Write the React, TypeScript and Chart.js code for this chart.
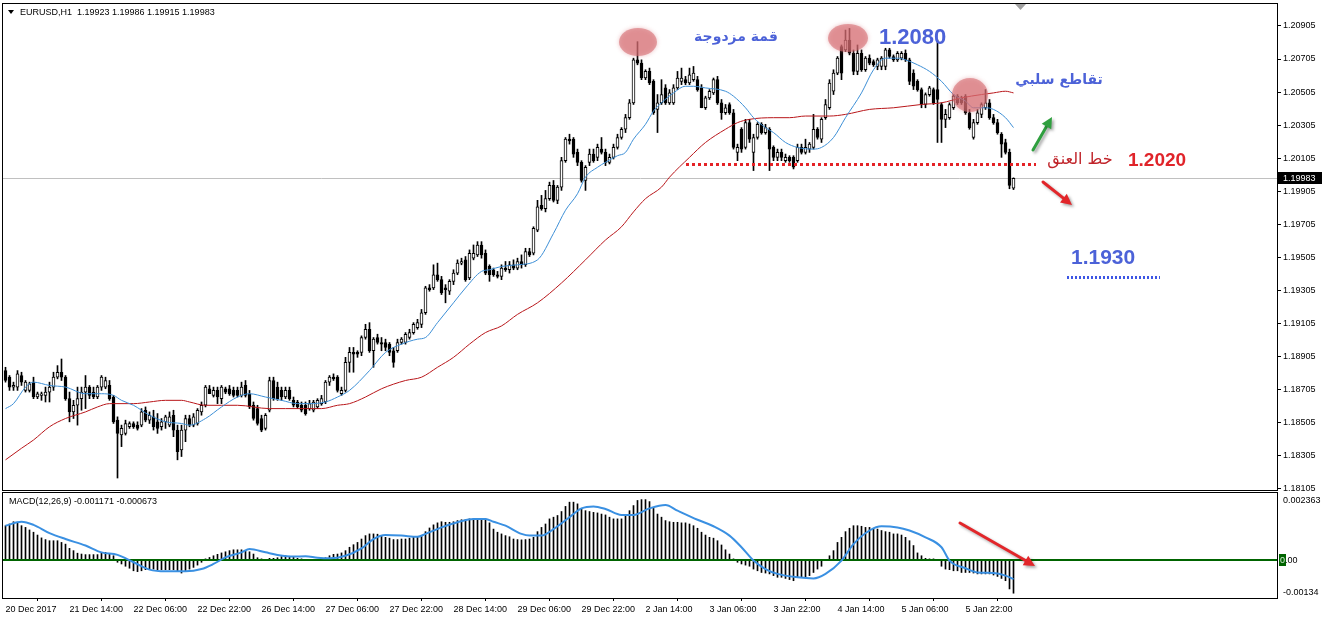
import React, { useEffect, useRef } from "react";
import { Chart, registerables } from "chart.js";
Chart.register(...registerables);

// ---------- DATA (EURUSD H1, bar index 0 = 20 Dec 2017 22:00) ----------
const opens = [
  1.1882,1.1878,1.1872,1.1872,1.1879,1.1870,1.1870,1.1875,1.1866,1.1867,
  1.1867,1.1869,1.1872,1.1878,1.1881,1.1878,1.1865,1.1857,1.1861,1.1865,
  1.1869,1.1872,1.1869,1.1866,1.1872,1.1872,1.1873,1.1866,1.1852,1.1843,
  1.1844,1.1848,1.1850,1.1849,1.1849,1.1858,1.1852,1.1854,1.1851,1.1848,
  1.1851,1.1849,1.1855,1.1846,1.1834,1.1846,1.1853,1.1849,1.1850,1.1857,
  1.1861,1.1871,1.1867,1.1870,1.1865,1.1871,1.1871,1.1870,1.1870,1.1867,
  1.1873,1.1868,1.1861,1.1859,1.1853,1.1847,1.1858,1.1876,1.1872,1.1870,
  1.1866,1.1870,1.1864,1.1863,1.1861,1.1861,1.1859,1.1858,1.1860,1.1862,
  1.1863,1.1875,1.1878,1.1878,1.1868,1.1870,1.1887,1.1893,1.1893,1.1893,
  1.1902,1.1907,1.1894,1.1902,1.1899,1.1899,1.1898,1.1894,1.1894,1.1899,
  1.1899,1.1902,1.1905,1.1908,1.1910,1.1917,1.1932,1.1932,1.1940,1.1937,
  1.1932,1.1930,1.1936,1.1941,1.1947,1.1949,1.1938,1.1950,1.1952,1.1958,
  1.1953,1.1945,1.1943,1.1940,1.1939,1.1944,1.1943,1.1946,1.1944,1.1948,
  1.1946,1.1954,1.1953,1.1967,1.1982,1.1980,1.1986,1.1994,1.1985,1.1993,
  1.2009,1.2022,1.2022,1.2014,1.2008,1.1997,1.2008,1.2013,1.2011,1.2016,
  1.2014,1.2008,1.2011,1.2017,1.2023,1.2028,1.2035,1.2044,1.2070,1.2068,
  1.2059,1.2063,1.2057,1.2040,1.2044,1.2053,1.2044,1.2044,1.2053,1.2057,
  1.2058,1.2056,1.2058,1.2058,1.2053,1.2041,1.2047,1.2050,1.2058,1.2044,
  1.2038,1.2043,1.2038,1.2014,1.2028,1.2017,1.2032,1.2014,1.2023,1.2031,
  1.2026,1.2028,1.2017,1.2011,1.2014,1.2009,1.2011,1.2011,1.2009,1.2017,
  1.2014,1.2016,1.2017,1.2028,1.2022,1.2035,1.2041,1.2051,1.2062,1.2078,
  1.2076,1.2082,1.2074,1.2063,1.2074,1.2064,1.2071,1.2069,1.2066,1.2066,
  1.2066,1.2076,1.2072,1.2070,1.2071,1.2074,1.2070,1.2062,1.2057,1.2052,
  1.2043,1.2049,1.2052,1.2052,1.2043,1.2034,1.2035,1.2041,1.2048,1.2047,
  1.2048,1.2038,1.2023,1.2032,1.2037,1.2041,1.2044,1.2035,1.2032,1.2025,
  1.2020,1.2014,1.19923,
];
const highs = [
  1.1884,1.1879,1.1875,1.1882,1.1881,1.1876,1.1875,1.1878,1.1869,1.1869,
  1.1872,1.1875,1.1881,1.1885,1.1889,1.1879,1.1869,1.1864,1.1872,1.1872,
  1.1879,1.1873,1.1872,1.1873,1.1879,1.1878,1.1876,1.1867,1.1854,1.1849,
  1.1852,1.1851,1.1851,1.1851,1.1859,1.1860,1.1857,1.1858,1.1856,1.1853,
  1.1855,1.1857,1.1858,1.1849,1.1849,1.1855,1.1855,1.1856,1.1859,1.1863,
  1.1873,1.1873,1.1872,1.1872,1.1873,1.1872,1.1873,1.1872,1.1872,1.1875,
  1.1876,1.1870,1.1863,1.1861,1.1855,1.1856,1.1878,1.1878,1.1875,1.1872,
  1.1872,1.1872,1.1866,1.1864,1.1863,1.1863,1.1864,1.1864,1.1865,1.1867,
  1.1876,1.1879,1.1880,1.1879,1.1872,1.1890,1.1896,1.1896,1.1894,1.1903,
  1.1910,1.1911,1.1902,1.1904,1.1902,1.1901,1.1899,1.1896,1.1901,1.1902,
  1.1905,1.1907,1.1911,1.1913,1.1919,1.1933,1.1934,1.1946,1.1947,1.1939,
  1.1934,1.1937,1.1943,1.1949,1.1950,1.1951,1.1955,1.1958,1.1960,1.1960,
  1.1955,1.1946,1.1944,1.1942,1.1946,1.1948,1.1948,1.1949,1.1950,1.1952,
  1.1956,1.1956,1.1969,1.1985,1.1988,1.1991,1.1996,1.1997,1.1994,1.2011,
  1.2023,1.2025,1.2023,1.2016,1.2009,1.2006,1.2016,1.2016,1.2019,1.2023,
  1.2016,1.2013,1.2019,1.2025,1.2029,1.2037,1.2046,1.2071,1.2081,1.2070,
  1.2064,1.2065,1.2058,1.2049,1.2058,1.2055,1.2052,1.2055,1.2063,1.2065,
  1.2060,1.2065,1.2066,1.2060,1.2055,1.2048,1.2052,1.2059,1.2060,1.2046,
  1.2043,1.2044,1.2040,1.2019,1.2029,1.2034,1.2034,1.2025,1.2032,1.2032,
  1.2031,1.2029,1.2018,1.2016,1.2016,1.2013,1.2012,1.2012,1.2019,1.2019,
  1.2022,1.2020,1.2037,1.2029,1.2035,1.2046,1.2058,1.2064,1.2072,1.2079,
  1.2088,1.2089,1.2076,1.2079,1.2076,1.2072,1.2073,1.2070,1.2071,1.2072,
  1.2077,1.2077,1.2073,1.2075,1.2075,1.2076,1.2071,1.2064,1.2058,1.2053,
  1.2050,1.2054,1.2053,1.2082,1.2044,1.2040,1.2044,1.2049,1.2049,1.2048,
  1.2049,1.2040,1.2034,1.2040,1.2044,1.2052,1.2046,1.2037,1.2034,1.2026,
  1.2022,1.2016,1.19986,
];
const lows = [
  1.1875,1.1870,1.1870,1.1870,1.1873,1.1869,1.1869,1.1865,1.1865,1.1864,
  1.1863,1.1863,1.1870,1.1877,1.1876,1.1864,1.1851,1.1853,1.1849,1.1858,
  1.1859,1.1865,1.1865,1.1865,1.1870,1.1871,1.1864,1.1850,1.1817,1.1836,
  1.1843,1.1847,1.1847,1.1846,1.1848,1.1851,1.1850,1.1846,1.1844,1.1846,
  1.1847,1.1848,1.1842,1.1828,1.1830,1.1839,1.1848,1.1848,1.1849,1.1855,
  1.1860,1.1868,1.1866,1.1862,1.1862,1.1868,1.1867,1.1866,1.1866,1.1866,
  1.1866,1.1859,1.1852,1.1849,1.1845,1.1846,1.1857,1.1864,1.1864,1.1864,
  1.1865,1.1864,1.1860,1.1859,1.1857,1.1855,1.1858,1.1857,1.1859,1.1861,
  1.1862,1.1873,1.1876,1.1869,1.1867,1.1869,1.1881,1.1881,1.1890,1.1891,
  1.1901,1.1893,1.1884,1.1898,1.1894,1.1894,1.1891,1.1884,1.1893,1.1898,
  1.1898,1.1901,1.1904,1.1907,1.1908,1.1916,1.1930,1.1931,1.1936,1.1928,
  1.1923,1.1928,1.1934,1.1940,1.1946,1.1936,1.1937,1.1949,1.1951,1.1950,
  1.1940,1.1936,1.1939,1.1938,1.1937,1.1942,1.1941,1.1943,1.1943,1.1944,
  1.1945,1.1951,1.1952,1.1966,1.1979,1.1978,1.1985,1.1984,1.1983,1.1991,
  1.2008,1.2019,1.2011,1.2006,1.1996,1.1991,1.2006,1.2008,1.2009,1.2013,
  1.2006,1.2007,1.2010,1.2016,1.2022,1.2026,1.2034,1.2043,1.2067,1.2058,
  1.2058,1.2055,1.2037,1.2026,1.2043,1.2043,1.2043,1.2043,1.2052,1.2055,
  1.2055,1.2055,1.2057,1.2051,1.2041,1.2040,1.2046,1.2049,1.2043,1.2034,
  1.2037,1.2037,1.2016,1.2009,1.2014,1.2016,1.2020,1.2003,1.2022,1.2025,
  1.2025,1.2003,1.2009,1.2009,1.2009,1.2008,1.2008,1.2004,1.2008,1.2013,
  1.2013,1.2014,1.2016,1.2022,1.2020,1.2034,1.2040,1.2049,1.2061,1.2058,
  1.2075,1.2073,1.2061,1.2061,1.2063,1.2063,1.2067,1.2066,1.2064,1.2064,
  1.2064,1.2071,1.2069,1.2069,1.2070,1.2069,1.2055,1.2052,1.2051,1.2041,
  1.2041,1.2048,1.2043,1.2020,1.2020,1.2029,1.2034,1.2040,1.2043,1.2043,
  1.2037,1.2028,1.2022,1.2031,1.2035,1.2040,1.2034,1.2031,1.2025,1.2011,
  1.2013,1.1992,1.19915,
];
const closes = [
  1.1876,1.1872,1.1873,1.1880,1.1875,1.1875,1.1874,1.1866,1.1868,1.1868,
  1.1869,1.1872,1.1878,1.1881,1.1878,1.1865,1.1857,1.1861,1.1865,1.1869,
  1.1872,1.1867,1.1866,1.1872,1.1878,1.1876,1.1865,1.1851,1.1844,1.1847,
  1.1850,1.1850,1.1848,1.1847,1.1857,1.1852,1.1855,1.1848,1.1847,1.1851,
  1.1854,1.1854,1.1846,1.1833,1.1846,1.1853,1.1849,1.1854,1.1858,1.1861,
  1.1872,1.1868,1.1870,1.1866,1.1872,1.1869,1.1868,1.1867,1.1867,1.1872,
  1.1867,1.1860,1.1853,1.1850,1.1846,1.1855,1.1876,1.1865,1.1865,1.1866,
  1.1870,1.1865,1.1861,1.1860,1.1858,1.1856,1.1862,1.1863,1.1864,1.1865,
  1.1875,1.1878,1.1877,1.1870,1.1870,1.1887,1.1893,1.1892,1.1892,1.1902,
  1.1907,1.1894,1.1901,1.1899,1.1898,1.1896,1.1893,1.1887,1.1899,1.1901,
  1.1904,1.1905,1.1910,1.1911,1.1917,1.1932,1.1931,1.1940,1.1937,1.1929,
  1.1931,1.1936,1.1941,1.1947,1.1948,1.1937,1.1953,1.1953,1.1958,1.1952,
  1.1941,1.1940,1.1940,1.1939,1.1944,1.1943,1.1946,1.1944,1.1948,1.1946,
  1.1954,1.1952,1.1968,1.1981,1.1980,1.1986,1.1994,1.1985,1.1993,1.2009,
  1.2022,1.2021,1.2013,1.2008,1.1997,1.2005,1.2013,1.2009,1.2017,1.2014,
  1.2008,1.2011,1.2017,1.2023,1.2028,1.2035,1.2044,1.2070,1.2068,1.2059,
  1.2063,1.2056,1.2038,1.2044,1.2049,1.2044,1.2050,1.2053,1.2059,1.2059,
  1.2056,1.2061,1.2062,1.2052,1.2041,1.2047,1.2051,1.2058,1.2044,1.2038,
  1.2041,1.2038,1.2017,1.2017,1.2016,1.2032,1.2022,1.2023,1.2031,1.2026,
  1.2029,1.2016,1.2011,1.2014,1.2011,1.2011,1.2009,1.2005,1.2017,1.2014,
  1.2017,1.2019,1.2028,1.2023,1.2034,1.2043,1.2056,1.2062,1.2071,1.2062,
  1.2082,1.2074,1.2063,1.2074,1.2064,1.2071,1.2068,1.2067,1.2070,1.2071,
  1.2076,1.2072,1.2070,1.2074,1.2074,1.2070,1.2057,1.2054,1.2052,1.2043,
  1.2049,1.2053,1.2044,1.2046,1.2034,1.2037,1.2043,1.2048,1.2044,1.2044,
  1.2038,1.2029,1.2032,1.2038,1.2043,1.2044,1.2035,1.2032,1.2026,1.2019,
  1.2014,1.1994,1.19983,
];

// fast moving average (blue), read at sampled bars
const fastMaBars = [0,2,5,7,11,15,20,24,27,29,32,36,40,44,46,50,54,58,61,65,69,73,76,80,83,86,91,95,99,103,105,108,112,115,119,121,124,128,133,137,140,143,145,148,150,153,155,157,160,162,164,167,170,172,175,180,182,185,187,190,192,195,198,202,204,207,210,214,217,220,223,225,228,231,234,237,240,242,245,247,250,252];
const fastMaValues = [1.1859,1.1862,1.1872,1.1875,1.1873,1.1872,1.1868,1.1868,1.1867,1.1864,1.1861,1.1855,1.1851,1.1850,1.1849,1.1853,1.1860,1.1866,1.1868,1.1866,1.1864,1.1862,1.1862,1.1863,1.1866,1.1870,1.1882,1.1893,1.1898,1.1901,1.1902,1.1911,1.1923,1.1932,1.1942,1.1943,1.1945,1.1946,1.1949,1.1965,1.1979,1.1989,1.1999,1.2005,1.2008,1.2012,1.2014,1.2022,1.2031,1.2039,1.2044,1.2050,1.2054,1.2054,1.2053,1.2051,1.2048,1.2041,1.2035,1.2029,1.2026,1.2020,1.2017,1.2016,1.2017,1.2023,1.2035,1.2050,1.2064,1.2071,1.2071,1.2070,1.2067,1.2063,1.2057,1.2049,1.2045,1.2041,1.2041,1.2040,1.2035,1.2029];

// slow moving average (red)
const slowMaBars = [0,4,7,11,15,20,23,26,32,36,40,44,46,50,54,58,66,70,75,79,83,86,90,94,100,104,108,112,116,120,124,128,133,139,145,150,154,157,160,164,166,171,175,180,183,186,192,196,200,206,210,216,222,229,234,239,244,247,250,252];
const slowMaValues = [1.1828,1.1835,1.1840,1.1848,1.1853,1.1857,1.1860,1.1862,1.1862,1.1863,1.1864,1.1864,1.1863,1.1861,1.1861,1.1861,1.1859,1.1859,1.1859,1.1859,1.1861,1.1862,1.1866,1.1871,1.1876,1.1878,1.1884,1.1890,1.1898,1.1905,1.1909,1.1916,1.1923,1.1935,1.1949,1.1961,1.1969,1.1978,1.1986,1.1993,1.1999,1.2011,1.2020,1.2028,1.2032,1.2034,1.2035,1.2035,1.2036,1.2036,1.2037,1.2040,1.2041,1.2043,1.2044,1.2047,1.2049,1.2050,1.2051,1.2050];

// MACD(12,26,9) main values (histogram), one per bar
const macdHist = [
  0.00121,0.00127,0.00135,0.00131,0.00121,0.00115,0.00106,0.00098,0.00088,0.00078,
  0.00072,0.00068,0.00068,0.00068,0.00062,0.00056,0.00041,0.00033,0.00024,0.00021,
  0.00019,0.00019,0.00019,0.00019,0.00027,0.00027,0.00021,0.00015,-0.00008,-0.00014,
  -0.00022,-0.00029,-0.00038,-0.00041,-0.00038,-0.00034,-0.00034,-0.00032,-0.00034,-0.00034,
  -0.00034,-0.00034,-0.00034,-0.00039,-0.00046,-0.00038,-0.00032,-0.00026,-0.00018,-0.00008,
  0.00004,0.00009,0.00015,0.00020,0.00025,0.00029,0.00033,0.00036,0.00036,0.00036,
  0.00034,0.00029,0.00021,0.00008,0.00004,0.00002,0.00006,0.00006,0.00008,0.00012,
  0.00015,0.00013,0.00011,0.00006,0.00004,0.00002,0.00001,0.00000,0.00001,0.00004,
  0.00008,0.00015,0.00020,0.00021,0.00025,0.00033,0.00045,0.00054,0.00062,0.00074,
  0.00086,0.00092,0.00092,0.00091,0.00086,0.00080,0.00077,0.00072,0.00072,0.00074,
  0.00074,0.00077,0.00080,0.00082,0.00086,0.00100,0.00113,0.00124,0.00131,0.00135,
  0.00133,0.00133,0.00135,0.00139,0.00142,0.00142,0.00145,0.00145,0.00147,0.00147,
  0.00145,0.00131,0.00109,0.00098,0.00092,0.00086,0.00082,0.00074,0.00072,0.00071,
  0.00072,0.00074,0.00080,0.00100,0.00115,0.00127,0.00145,0.00151,0.00157,0.00171,
  0.00189,0.00204,0.00204,0.00198,0.00180,0.00174,0.00171,0.00168,0.00166,0.00162,
  0.00159,0.00151,0.00145,0.00145,0.00145,0.00154,0.00174,0.00192,0.00210,0.00213,
  0.00213,0.00206,0.00182,0.00162,0.00151,0.00139,0.00135,0.00133,0.00133,0.00131,
  0.00131,0.00127,0.00121,0.00112,0.00098,0.00088,0.00080,0.00077,0.00068,0.00053,
  0.00036,0.00021,0.00004,-0.00008,-0.00014,-0.00018,-0.00022,-0.00032,-0.00038,-0.00044,
  -0.00046,-0.00049,-0.00055,-0.00061,-0.00061,-0.00065,-0.00069,-0.00073,-0.00061,-0.00061,
  -0.00061,-0.00055,-0.00044,-0.00032,-0.00022,-0.00002,0.00015,0.00033,0.00062,0.00080,
  0.00100,0.00112,0.00121,0.00121,0.00119,0.00115,0.00115,0.00112,0.00109,0.00104,
  0.00100,0.00098,0.00092,0.00092,0.00088,0.00080,0.00068,0.00051,0.00025,0.00015,
  0.00006,0.00004,0.00004,0.00000,-0.00022,-0.00032,-0.00034,-0.00038,-0.00038,-0.00044,
  -0.00044,-0.00044,-0.00046,-0.00049,-0.00049,-0.00049,-0.00049,-0.00053,-0.00058,-0.00065,
  -0.00073,-0.00102,-0.001171,
];
// MACD signal line (blue), sampled
const signalBars = [0,4,7,11,15,20,24,28,32,36,40,45,49,52,55,59,61,65,68,72,75,78,81,85,89,92,95,99,103,105,109,113,117,120,122,125,129,131,134,137,141,144,147,150,154,157,161,165,168,173,177,181,184,187,190,193,198,202,205,209,212,216,219,223,226,230,234,236,240,243,247,250,252];
const signalValues = [0.00121,0.00135,0.00124,0.00095,0.00074,0.00051,0.00027,0.00018,-0.00008,-0.00034,-0.00040,-0.00040,-0.00032,-0.00014,0.00009,0.00027,0.00039,0.00027,0.00018,0.00012,0.00013,0.00008,0.00006,0.00015,0.00041,0.00074,0.00088,0.00086,0.00082,0.00092,0.00115,0.00133,0.00145,0.00145,0.00135,0.00121,0.00092,0.00086,0.00086,0.00109,0.00151,0.00182,0.00189,0.00180,0.00159,0.00159,0.00182,0.00194,0.00174,0.00142,0.00119,0.00086,0.00045,-0.00002,-0.00032,-0.00049,-0.00061,-0.00065,-0.00049,-0.00002,0.00056,0.00104,0.00119,0.00115,0.00104,0.00080,0.00045,-0.00002,-0.00029,-0.00044,-0.00046,-0.00055,-0.000673];

const priceTicks = [1.18105,1.18305,1.18505,1.18705,1.18905,1.19105,1.19305,1.19505,1.19705,1.19905,1.20105,1.20305,1.20505,1.20705,1.20905];
const timeTickBars = [0,16,32,48,64,80,96,112,128,144,160,176,192,208,224,240];
const timeTickLabels = ["20 Dec 2017","21 Dec 14:00","22 Dec 06:00","22 Dec 22:00","26 Dec 14:00","27 Dec 06:00","27 Dec 22:00","28 Dec 14:00","29 Dec 06:00","29 Dec 22:00","2 Jan 14:00","3 Jan 06:00","3 Jan 22:00","4 Jan 14:00","5 Jan 06:00","5 Jan 22:00"];
const macdMax = 0.002363;
const macdMin = -0.00134;
const priceMin = 1.180975;
const priceMax = 1.210378;

// ---------- STYLE ----------
const FONT = "'Liberation Sans', Arial, sans-serif";
const AR_FONT = "'DejaVu Sans', sans-serif";
const X_MIN = -0.625;
const X_MAX = 318.125;
const BLUE_TXT = "#4c62d8";

function drawArrow(ctx: CanvasRenderingContext2D, x1: number, y1: number, x2: number, y2: number, color: string, width = 3, head = 11) {
  ctx.save();
  ctx.shadowColor = "rgba(0,0,0,0.35)";
  ctx.shadowBlur = 3;
  ctx.shadowOffsetX = 2;
  ctx.shadowOffsetY = 2;
  const ang = Math.atan2(y2 - y1, x2 - x1);
  const bx = x2 - head * Math.cos(ang);
  const by = y2 - head * Math.sin(ang);
  ctx.strokeStyle = color;
  ctx.lineWidth = width;
  ctx.lineCap = "round";
  ctx.beginPath();
  ctx.moveTo(x1, y1);
  ctx.lineTo(bx, by);
  ctx.stroke();
  const hw = head * 0.5;
  ctx.fillStyle = color;
  ctx.beginPath();
  ctx.moveTo(x2, y2);
  ctx.lineTo(bx + hw * Math.sin(ang), by - hw * Math.cos(ang));
  ctx.lineTo(bx - hw * Math.sin(ang), by + hw * Math.cos(ang));
  ctx.closePath();
  ctx.fill();
  ctx.restore();
}

function blob(ctx: CanvasRenderingContext2D, cx: number, cy: number, rx: number, ry: number) {
  ctx.save();
  ctx.fillStyle = "rgba(214,108,114,0.6)";
  ctx.shadowColor = "rgba(214,108,114,0.7)";
  ctx.shadowBlur = 4;
  ctx.beginPath();
  ctx.ellipse(cx, cy, rx, ry, 0, 0, Math.PI * 2);
  ctx.fill();
  ctx.restore();
}

const priceOverlay = {
  id: "priceOverlay",
  beforeDatasetsDraw(chart: any) {
    const { ctx, chartArea, scales } = chart;
    const y = Math.round(scales.y.getPixelForValue(closes[closes.length - 1])) + 0.5;
    ctx.save();
    ctx.strokeStyle = "#c0c0c0";
    ctx.lineWidth = 1;
    ctx.beginPath();
    ctx.moveTo(chartArea.left, y);
    ctx.lineTo(chartArea.right, y);
    ctx.stroke();
    ctx.restore();
  },
  afterDatasetsDraw(chart: any) {
    const ctx = chart.ctx;
    blob(ctx, 638, 42, 19, 14);
    blob(ctx, 848, 38, 20, 14);
    blob(ctx, 970, 95, 18, 17);
  },
  afterDraw(chart: any) {
    const { ctx, chartArea, scales } = chart;
    ctx.save();
    // frame
    ctx.strokeStyle = "#000";
    ctx.lineWidth = 1;
    ctx.strokeRect(chartArea.left - 0.5, chartArea.top - 0.5, chartArea.right - chartArea.left, chartArea.bottom - chartArea.top + 1);
    // current price label
    const last = closes.length - 1;
    const py = Math.round(scales.y.getPixelForValue(closes[last]));
    ctx.fillStyle = "#000";
    ctx.fillRect(chartArea.right, py - 6, 44, 12);
    ctx.fillStyle = "#fff";
    ctx.font = `9px ${FONT}`;
    ctx.textBaseline = "middle";
    ctx.textAlign = "left";
    ctx.fillText(closes[last].toFixed(5), chartArea.right + 5, py + 0.5);
    // header
    ctx.fillStyle = "#000";
    ctx.beginPath();
    ctx.moveTo(8, 10);
    ctx.lineTo(14, 10);
    ctx.lineTo(11, 14);
    ctx.closePath();
    ctx.fill();
    ctx.font = `9px ${FONT}`;
    ctx.fillText(`EURUSD,H1  ${opens[last].toFixed(5)} ${highs[last].toFixed(5)} ${lows[last].toFixed(5)} ${closes[last].toFixed(5)}`, 20, 13);
    // chart shift marker
    ctx.fillStyle = "#a0a0a0";
    ctx.beginPath();
    ctx.moveTo(1015, 4);
    ctx.lineTo(1026, 4);
    ctx.lineTo(1020.5, 10);
    ctx.closePath();
    ctx.fill();
    // neckline (red dotted)
    ctx.save();
    ctx.strokeStyle = "#e42226";
    ctx.lineWidth = 3;
    ctx.setLineDash([3, 3]);
    ctx.beginPath();
    ctx.moveTo(686, 164.5);
    ctx.lineTo(1036, 164.5);
    ctx.stroke();
    // target (blue dotted)
    ctx.strokeStyle = "#3d56e4";
    ctx.setLineDash([2, 2]);
    ctx.beginPath();
    ctx.moveTo(1067, 277.5);
    ctx.lineTo(1160, 277.5);
    ctx.stroke();
    ctx.restore();
    // texts
    ctx.textBaseline = "middle";
    ctx.fillStyle = BLUE_TXT;
    ctx.textAlign = "center";
    ctx.font = `bold 14px ${AR_FONT}`;
    ctx.fillText("قمة مزدوجة", 736, 37);
    ctx.fillText("تقاطع سلبي", 1059, 80);
    ctx.textAlign = "left";
    ctx.font = `bold 22px ${FONT}`;
    ctx.fillText("1.2080", 879, 38);
    ctx.font = `bold 21px ${FONT}`;
    ctx.fillText("1.1930", 1071, 258);
    ctx.fillStyle = "#c0242a";
    ctx.textAlign = "center";
    ctx.font = `16px ${AR_FONT}`;
    ctx.fillText("خط العنق", 1080, 160);
    ctx.fillStyle = "#e0242a";
    ctx.textAlign = "left";
    ctx.font = `bold 19px ${FONT}`;
    ctx.fillText("1.2020", 1128, 161);
    // arrows
    drawArrow(ctx, 1033, 150, 1052, 117, "#2f9f3f");
    drawArrow(ctx, 1043, 182, 1072, 205, "#e2262a");
    ctx.restore();
  },
};

const macdOverlay = {
  id: "macdOverlay",
  afterDraw(chart: any) {
    const { ctx, chartArea, scales } = chart;
    ctx.save();
    ctx.strokeStyle = "#000";
    ctx.lineWidth = 1;
    ctx.strokeRect(chartArea.left - 0.5, chartArea.top - 0.5, chartArea.right - chartArea.left, chartArea.bottom - chartArea.top + 1);
    ctx.font = `9px ${FONT}`;
    ctx.textBaseline = "middle";
    ctx.textAlign = "left";
    ctx.fillStyle = "#000";
    ctx.fillText(`MACD(12,26,9) ${macdHist[macdHist.length - 1].toFixed(6)} ${signalValues[signalValues.length - 1].toFixed(6)}`, 9, chartArea.top + 9);
    const x0 = chartArea.right + 5;
    ctx.fillText(macdMax.toFixed(6), x0, chartArea.top + 8);
    ctx.fillText(macdMin.toFixed(5), x0, chartArea.bottom - 5);
    const zy = Math.round(scales.y.getPixelForValue(0));
    ctx.fillStyle = "#006400";
    ctx.fillRect(chartArea.right + 1, zy - 6, 7, 12);
    ctx.fillStyle = "#d8f0d8";
    ctx.fillText("0", chartArea.right + 2, zy + 0.5);
    ctx.fillStyle = "#000";
    ctx.fillText(".00", chartArea.right + 7, zy + 0.5);
    drawArrow(ctx, 960, 31, 1035, 74, "#e2262a");
    ctx.restore();
  },
};

export default function App() {
  const refA = useRef<HTMLCanvasElement>(null);
  const refB = useRef<HTMLCanvasElement>(null);

  useEffect(() => {
    const candleColors = opens.map((o, i) => (closes[i] >= o ? "#ffffff" : "#000000"));
    const chartA = new Chart(refA.current as HTMLCanvasElement, {
      type: "bar",
      data: {
        datasets: [
          {
            type: "bar",
            data: highs.map((h, i) => ({ x: i, y: [lows[i], h] })) as any,
            backgroundColor: "#000",
            barThickness: 1,
            grouped: false,
            minBarLength: 1,
            order: 4,
          } as any,
          {
            type: "bar",
            data: opens.map((o, i) => ({ x: i, y: [o, closes[i]] })) as any,
            backgroundColor: candleColors,
            borderColor: "#000",
            borderWidth: 1,
            borderSkipped: false,
            barThickness: 3,
            grouped: false,
            minBarLength: 1,
            order: 3,
          } as any,
          {
            type: "line",
            data: slowMaBars.map((b, i) => ({ x: b, y: slowMaValues[i] })),
            borderColor: "#b8161a",
            borderWidth: 1,
            pointRadius: 0,
            cubicInterpolationMode: "monotone",
            order: 2,
          } as any,
          {
            type: "line",
            data: fastMaBars.map((b, i) => ({ x: b, y: fastMaValues[i] })),
            borderColor: "#3d8fd6",
            borderWidth: 1,
            pointRadius: 0,
            cubicInterpolationMode: "monotone",
            order: 1,
          } as any,
        ],
      },
      options: {
        responsive: false,
        animation: false,
        devicePixelRatio: 1,
        events: [],
        layout: { padding: { left: 3, top: 4, right: 0, bottom: 2 } },
        plugins: { legend: { display: false }, tooltip: { enabled: false } },
        scales: {
          x: { type: "linear", min: X_MIN, max: X_MAX, display: false, offset: false },
          y: {
            type: "linear",
            position: "right",
            min: priceMin,
            max: priceMax,
            grid: { display: true, drawOnChartArea: false, drawTicks: true, tickLength: 3, color: "#000" },
            border: { display: false },
            ticks: {
              font: { family: FONT, size: 9 },
              color: "#000",
              padding: 2,
              autoSkip: false,
              callback: (v: any) => Number(v).toFixed(5),
            },
            afterBuildTicks: (s: any) => {
              s.ticks = priceTicks.map((v) => ({ value: v }));
            },
            afterFit: (s: any) => {
              s.width = 44;
              s.paddingTop = 0;
              s.paddingBottom = 0;
            },
          },
        },
      } as any,
      plugins: [priceOverlay],
    });

    const chartB = new Chart(refB.current as HTMLCanvasElement, {
      type: "bar",
      data: {
        datasets: [
          {
            type: "bar",
            data: macdHist.map((v, i) => ({ x: i, y: v })),
            backgroundColor: "#000",
            barThickness: 1,
            grouped: false,
            order: 3,
          } as any,
          {
            type: "line",
            data: [
              { x: X_MIN, y: 0 },
              { x: X_MAX, y: 0 },
            ],
            borderColor: "#006400",
            borderWidth: 2,
            pointRadius: 0,
            order: 2,
          } as any,
          {
            type: "line",
            data: signalBars.map((b, i) => ({ x: b, y: signalValues[i] })),
            borderColor: "#3a90e2",
            borderWidth: 2,
            pointRadius: 0,
            cubicInterpolationMode: "monotone",
            order: 1,
          } as any,
        ],
      },
      options: {
        responsive: false,
        animation: false,
        devicePixelRatio: 1,
        events: [],
        layout: { padding: { left: 3, top: 1, right: 0, bottom: 0 } },
        plugins: { legend: { display: false }, tooltip: { enabled: false } },
        scales: {
          x: {
            type: "linear",
            min: X_MIN,
            max: X_MAX,
            offset: false,
            position: "bottom",
            grid: { display: true, drawOnChartArea: false, drawTicks: true, tickLength: 3, color: "#000" },
            border: { display: false },
            ticks: {
              align: "start",
              font: { family: FONT, size: 9 },
              color: "#000",
              padding: 3,
              autoSkip: false,
              maxRotation: 0,
              minRotation: 0,
              callback: (v: any) => {
                const k = timeTickBars.indexOf(Number(v));
                return k >= 0 ? timeTickLabels[k] : "";
              },
            },
            afterBuildTicks: (s: any) => {
              s.ticks = timeTickBars.map((v) => ({ value: v }));
            },
            afterFit: (s: any) => {
              s.height = 24;
              s.paddingLeft = 0;
              s.paddingRight = 0;
            },
          },
          y: {
            type: "linear",
            position: "right",
            min: macdMin,
            max: macdMax,
            grid: { display: false },
            border: { display: false },
            ticks: { display: false },
            afterFit: (s: any) => {
              s.width = 44;
              s.paddingTop = 0;
              s.paddingBottom = 0;
            },
          },
        },
      } as any,
      plugins: [macdOverlay],
    });

    return () => {
      chartA.destroy();
      chartB.destroy();
    };
  }, []);

  return (
    <div style={{ position: "fixed", left: 0, top: 0, width: 1322, height: 622, background: "#fff", overflow: "hidden" }}>
      <canvas ref={refA} width={1322} height={492} style={{ position: "absolute", left: 0, top: 0, width: 1322, height: 492 }} />
      <canvas ref={refB} width={1322} height={130} style={{ position: "absolute", left: 0, top: 492, width: 1322, height: 130 }} />
    </div>
  );
}
